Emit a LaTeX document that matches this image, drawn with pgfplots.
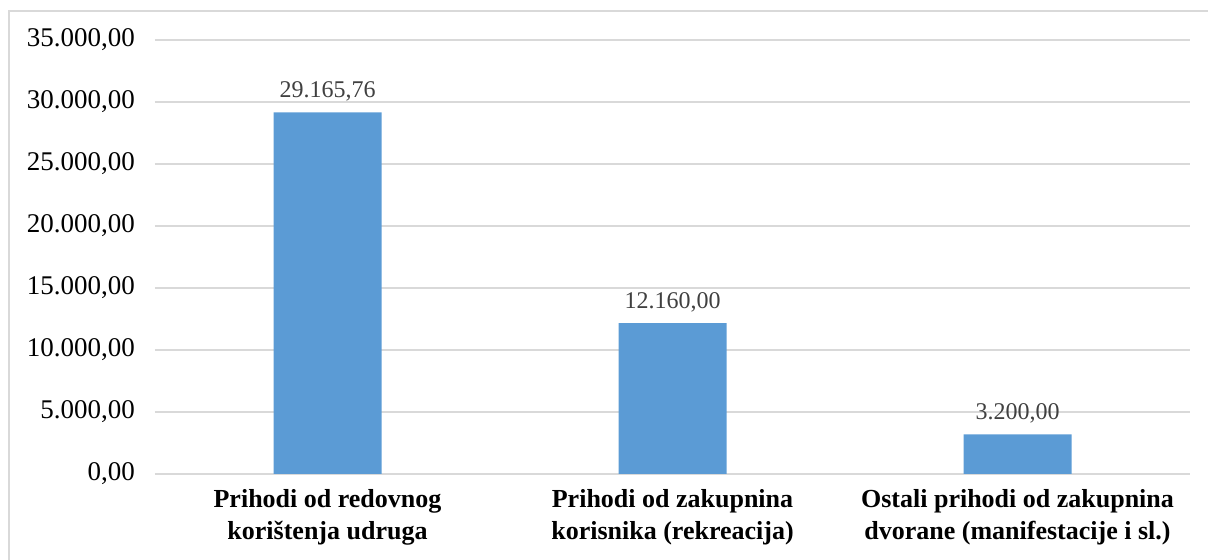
\documentclass[border=0pt]{standalone}
\usepackage{pgfplots}
\pgfplotsset{compat=1.18}
\usepackage{fontspec}
\setmainfont{Liberation Serif}
\definecolor{barblue}{HTML}{5B9BD5}
\definecolor{gridgray}{HTML}{D9D9D9}
\definecolor{labelgray}{HTML}{404040}
\begin{document}
\begin{tikzpicture}
\useasboundingbox (0,0) rectangle (604pt,280pt);
\draw[gridgray, line width=1pt] (4.5pt,-2pt) -- (4.5pt,274.5pt) -- (606pt,274.5pt);
\begin{axis}[
  at={(77.5pt,43pt)}, anchor=south west,
  scale only axis, width=517.5pt, height=217pt,
  xmin=-0.5, xmax=2.5, ymin=0, ymax=35000,
  ytick={0,5000,...,35000},
  xtick=data,
  xticklabels={{Prihodi od redovnog\\korištenja udruga},{Prihodi od zakupnina\\korisnika (rekreacija)},{Ostali prihodi od zakupnina\\dvorane (manifestacije i sl.)}},
  xticklabel style={align=center, font=\fontsize{13}{16}\selectfont\bfseries, yshift=-4pt},
  yticklabel style={font=\fontsize{13.5}{16}\selectfont, xshift=-6.5pt},
  /pgf/number format/.cd, fixed, fixed zerofill, precision=2, use comma, 1000 sep={.}, assume math mode=true,
  /pgfplots/.cd,
  scaled y ticks=false,
  ymajorgrids, grid style={gridgray, line width=0.75pt},
  axis x line*=bottom, axis y line*=left,
  x axis line style={gridgray, line width=0.75pt, -},
  y axis line style={draw=none},
  major tick length=0pt,
  ybar, bar width=54pt,
  nodes near coords,
  every node near coord/.append style={font=\fontsize{12}{14}\selectfont, text=labelgray, yshift=2pt},
  clip=false,
]
\addplot[fill=barblue, draw=none] coordinates {(0,29165.76) (1,12160) (2,3200)};
\end{axis}
\end{tikzpicture}
\end{document}
